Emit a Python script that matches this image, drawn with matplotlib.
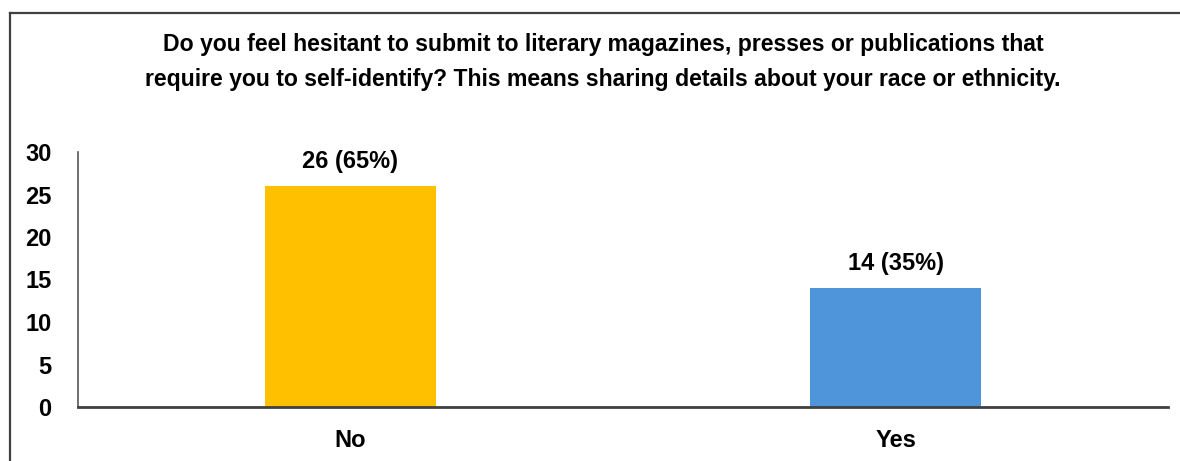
import matplotlib.pyplot as plt
from matplotlib.lines import Line2D

# survey answers
categories = ["No", "Yes"]
counts = [26, 14]
percents = [65, 35]
colors = ["#FFC000", "#4E95D9"]
title = ("Do you feel hesitant to submit to literary magazines, presses or publications that\n"
         "require you to self-identify? This means sharing details about your race or ethnicity.")

plt.rcParams['font.family'] = ['Liberation Sans', 'DejaVu Sans']
plt.rcParams['font.weight'] = 'bold'
fs = 17

fig = plt.figure(figsize=(11.8, 4.61), dpi=100)
ax = fig.add_axes([78 / 1180, 1 - 407 / 461, 1090 / 1180, 255 / 461])

x = range(len(categories))
bars = ax.bar(x, counts, width=0.313, color=colors)
for b, c, p in zip(bars, counts, percents):
    ax.text(b.get_x() + b.get_width() / 2, c + 2.9, f"{c} ({p}%)",
            ha='center', va='center', fontsize=fs, fontweight='bold')

ax.set_xlim(-0.5, 1.5)
ax.set_ylim(0, 30)
ax.set_yticks(range(0, 31, 5))
ax.set_xticks(list(x))
ax.set_xticklabels(categories, fontsize=fs, fontweight='bold')
ax.tick_params(axis='y', length=0, pad=19, labelsize=fs)
ax.tick_params(axis='x', length=0, pad=16)
for lbl in ax.get_yticklabels():
    lbl.set_fontweight('bold')

for s in ['top', 'right']:
    ax.spines[s].set_visible(False)
ax.spines['left'].set_color('#555555')
ax.spines['left'].set_linewidth(1.2)
ax.spines['bottom'].set_color('#404040')
ax.spines['bottom'].set_linewidth(2)

fig.text(603 / 1180, 1 - 62 / 461, title, ha='center', va='center',
         fontsize=16.6, fontweight='bold', linespacing=1.62)

# frame edges along the left and top
fig.add_artist(Line2D([10 / 1180, 10 / 1180], [0, 1 - 13 / 461], color='#404040', lw=1.6))
fig.add_artist(Line2D([10 / 1180, 1], [1 - 13 / 461, 1 - 13 / 461], color='#404040', lw=1.6))

fig.savefig("out.png", dpi=100)
